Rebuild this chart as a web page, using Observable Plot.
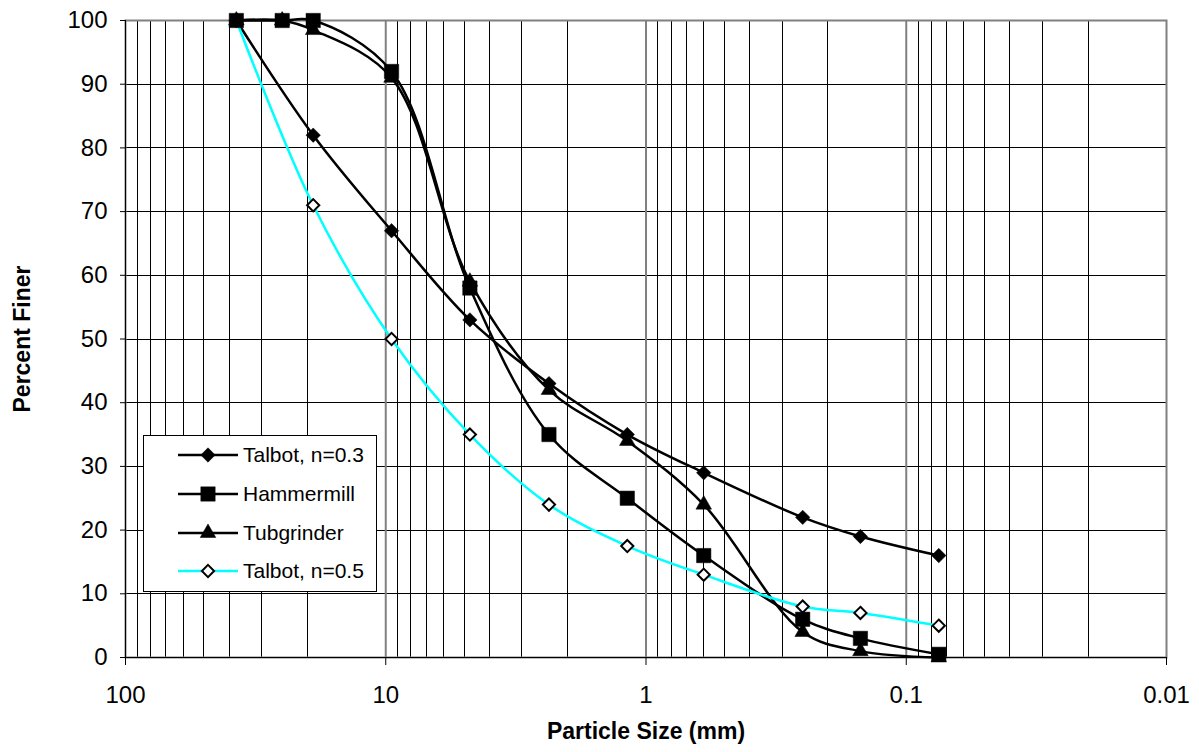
<!DOCTYPE html>
<html>
<head>
<meta charset="utf-8">
<script src="https://cdn.jsdelivr.net/npm/d3@7"></script>
<script src="https://cdn.jsdelivr.net/npm/@observablehq/plot@0.6"></script>
<style>
  body { margin: 0; background: #fff; font-family: "Liberation Sans", Arial, sans-serif; }
  #wrap { position: relative; width: 1199px; height: 752px; }
  #legend {
    position: absolute; left: 143px; top: 435px;
    background: #fff; border: 1px solid #000; box-sizing: border-box;
    padding: 0 12px 0 34px;
  }
  .entry { display: flex; align-items: center; height: 38.7px; font-size: 21px; color: #000; white-space: nowrap; }
  .entry svg { margin-right: 5px; }
</style>
</head>
<body>
<div id="wrap"><div id="legend"></div></div>
<script>
// Sieve sizes (mm) and percent passing for each gradation
const sizes      = [37.5, 25, 19, 9.5, 4.75, 2.36, 1.18, 0.6, 0.25, 0.15, 0.075];
const talbot03   = [100, null, 82, 67, 53, 43, 35, 29, 22, 19, 16];
const hammermill = [100, 100, 100, 92, 58, 35, 25, 16, 6, 3, 0.5];
const tubgrinder = [100, 100, 98.5, 91, 59, 42, 34, 24, 4, 1, 0];
const talbot05   = [100, null, 71, 50, 35, 24, 17.5, 13, 8, 7, 5];

const seriesNames = ["Talbot, n=0.3", "Hammermill", "Tubgrinder", "Talbot, n=0.5"];
const seriesValues = [talbot03, hammermill, tubgrinder, talbot05];

const xTicks = [100, 10, 1, 0.1, 0.01];
const yTicks = [0, 10, 20, 30, 40, 50, 60, 70, 80, 90, 100];

// Per-series look
const styles = {
  "Talbot, n=0.3": {line: "#000", symbol: "diamond2", r: 6.5, fill: "#000", stroke: "#000", sw: 0.5},
  "Hammermill":    {line: "#000", symbol: "square",   r: 8.1, fill: "#000", stroke: "#000", sw: 0.5},
  "Tubgrinder":    {line: "#000", symbol: "triangle", r: 5.8, fill: "#000", stroke: "#000", sw: 0.5},
  "Talbot, n=0.5": {line: "#00FFFF", symbol: "diamond2", r: 5.5, fill: "#fff", stroke: "#000", sw: 2}
};

// Long table, skipping sieves with no reading
const rows = [];
seriesNames.forEach((name, i) => {
  sizes.forEach((d, j) => {
    const v = seriesValues[i][j];
    if (v != null) rows.push({series: name, size: d, pct: v});
  });
});

// Log gridlines: every 1..9 multiple within each decade
const decades = d3.range(-2, 2);
const minorGrid = decades.flatMap(e => d3.range(2, 10).map(m => m * Math.pow(10, e)));
const majorGrid = xTicks.slice(1, -1);

const font = "Liberation Sans, Arial, sans-serif";

const marks = [
  Plot.ruleY(yTicks.slice(1, -1), {stroke: "#000", strokeWidth: 1, shapeRendering: "crispEdges"}),
  Plot.ruleX(minorGrid, {stroke: "#000", strokeWidth: 1, shapeRendering: "crispEdges"}),
  Plot.ruleX(majorGrid, {stroke: "#808080", strokeWidth: 2}),
  Plot.frame({stroke: "#808080", strokeWidth: 2}),
  Plot.ruleX([100], {stroke: "#000", strokeWidth: 1}),
  Plot.ruleY([0], {stroke: "#000", strokeWidth: 1}),
  Plot.axisX(xTicks, {
    tickSize: 8, tickPadding: 20, fontSize: 24, stroke: "#000",
    tickFormat: d => String(d), label: null
  }),
  Plot.axisY(yTicks, {
    tickSize: 5, tickPadding: 13, fontSize: 24, stroke: "#000",
    tickFormat: d => String(d), label: null
  }),
  Plot.text(["Particle Size (mm)"], {
    frameAnchor: "bottom", textAnchor: "middle", dy: 81, fontSize: 23, fontWeight: "bold", fill: "#000"
  }),
  Plot.text(["Percent Finer"], {
    frameAnchor: "left", textAnchor: "middle", dx: -103, rotate: -90, fontSize: 23, fontWeight: "bold", fill: "#000"
  })
];

// Lines in series order, then markers (last series first so solid markers sit on top)
seriesNames.forEach(name => {
  const s = styles[name];
  const data = rows.filter(r => r.series === name);
  marks.push(Plot.line(data, {x: "size", y: "pct", stroke: s.line, strokeWidth: 2.5, curve: "catmull-rom"}));
});
seriesNames.slice().reverse().forEach(name => {
  const s = styles[name];
  const data = rows.filter(r => r.series === name);
  marks.push(Plot.dot(data, {
    x: "size", y: "pct", symbol: () => s.symbol, r: s.r,
    fill: s.fill, stroke: s.stroke, strokeWidth: s.sw
  }));
});

const chart = Plot.plot({
  width: 1199,
  height: 752,
  marginLeft: 125,
  marginRight: 33,
  marginTop: 20,
  marginBottom: 95,
  style: {fontFamily: font, background: "#fff", color: "#000", overflow: "visible"},
  x: {type: "log", domain: [100, 0.01], axis: null},
  y: {domain: [0, 100], axis: null},
  symbol: {type: "identity"},
  marks
});

const wrap = document.getElementById("wrap");
wrap.insertBefore(chart, wrap.firstChild);

// Legend box drawn with the same symbols as the chart
const legend = document.getElementById("legend");
seriesNames.forEach(name => {
  const s = styles[name];
  const entry = document.createElement("div");
  entry.className = "entry";
  const sym = d3.symbol(
    s.symbol === "diamond2" ? d3.symbolDiamond2 : s.symbol === "square" ? d3.symbolSquare : d3.symbolTriangle,
    Math.PI * s.r * s.r
  )();
  entry.innerHTML =
    `<svg width="60" height="20" viewBox="-30 -10 60 20" style="overflow:visible">
       <line x1="-30" x2="30" y1="0" y2="0" stroke="${s.line}" stroke-width="2.5"/>
       <path d="${sym}" fill="${s.fill}" stroke="${s.stroke}" stroke-width="${s.sw}"/>
     </svg><span>${name}</span>`;
  legend.appendChild(entry);
});
</script>
</body>
</html>
